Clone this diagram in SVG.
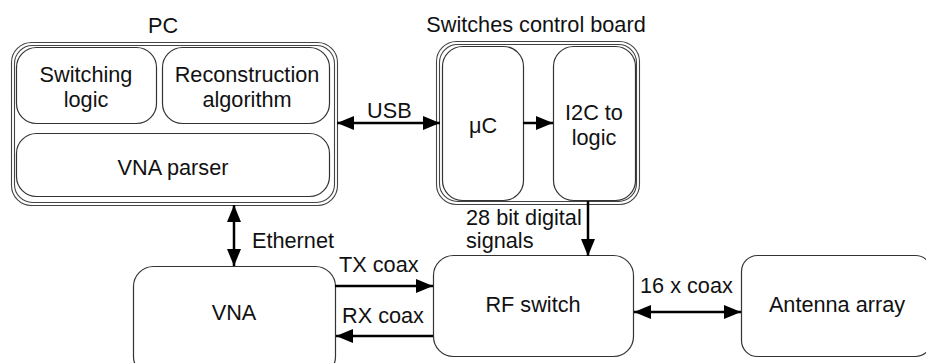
<svg xmlns="http://www.w3.org/2000/svg" width="926" height="363" viewBox="0 0 926 363">
<style>
.box{fill:#fff;stroke:#333;stroke-width:1.2}
.outer{fill:none;stroke:#444;stroke-width:1.1}
text{font-family:"Liberation Sans",Arial,sans-serif;font-size:21.7px;fill:#111}
.c{text-anchor:middle}
.ln{stroke:#000;stroke-width:2.5;fill:none}
</style>
<defs>
<marker id="ah" viewBox="0 0 17 14" refX="17" refY="7" markerWidth="17" markerHeight="14" markerUnits="userSpaceOnUse" orient="auto-start-reverse">
<path d="M0,0 L17,7 L0,14 Z" fill="#000"/>
</marker>
</defs>
<g id="pc">
<rect class="outer" x="11.5" y="42.5" width="326" height="163" rx="20"/>
<rect class="outer" x="14.5" y="45.5" width="320" height="157" rx="18"/>
<text class="c" x="163" y="33">PC</text>
</g>
<g id="switching-logic">
<rect class="box" x="16.5" y="47.5" width="140" height="76" rx="20"/>
<text class="c" x="86" y="82">Switching</text>
<text class="c" x="86" y="107">logic</text>
</g>
<g id="reconstruction">
<rect class="box" x="162.5" y="47.5" width="167" height="76" rx="20"/>
<text class="c" x="247" y="82">Reconstruction</text>
<text class="c" x="247" y="107">algorithm</text>
</g>
<g id="vna-parser">
<rect class="box" x="16.5" y="133.5" width="313" height="63" rx="20"/>
<text class="c" x="173" y="175">VNA parser</text>
</g>
<g id="control-board">
<rect class="outer" x="436.5" y="41.5" width="203" height="163" rx="20"/>
<rect class="outer" x="439.5" y="44.5" width="197" height="157" rx="18"/>
<text class="c" x="536" y="32">Switches control board</text>
</g>
<g id="uc">
<rect class="box" x="442.5" y="46.5" width="81" height="154" rx="20"/>
<text class="c" x="483" y="133">μC</text>
</g>
<g id="i2c">
<rect class="box" x="553.5" y="46.5" width="82" height="154" rx="20"/>
<text class="c" x="594" y="120">I2C to</text>
<text class="c" x="594" y="145">logic</text>
</g>
<g id="vna">
<rect class="box" x="133.5" y="266.5" width="202" height="110" rx="20"/>
<text class="c" x="234" y="320">VNA</text>
</g>
<g id="rf-switch">
<rect class="box" x="433.5" y="255.5" width="200" height="101" rx="20"/>
<text class="c" x="533" y="312">RF switch</text>
</g>
<g id="antenna-array">
<rect class="box" x="741.5" y="255.5" width="190" height="101" rx="16"/>
<text class="c" x="837" y="312">Antenna array</text>
</g>
<g id="connectors">
<line class="ln" x1="337" y1="123" x2="440" y2="123" marker-start="url(#ah)" marker-end="url(#ah)"/>
<line class="ln" x1="523" y1="123" x2="553" y2="123" marker-end="url(#ah)"/>
<line class="ln" x1="234" y1="205" x2="234" y2="266" marker-start="url(#ah)" marker-end="url(#ah)"/>
<line class="ln" x1="335" y1="286" x2="433" y2="286" marker-end="url(#ah)"/>
<line class="ln" x1="433" y1="336" x2="336" y2="336" marker-end="url(#ah)"/>
<line class="ln" x1="588" y1="201" x2="588" y2="256" marker-end="url(#ah)"/>
<line class="ln" x1="634" y1="312" x2="741" y2="312" marker-start="url(#ah)" marker-end="url(#ah)"/>
<text x="367" y="118">USB</text>
<text x="252" y="248">Ethernet</text>
<text x="339" y="272">TX coax</text>
<text x="342" y="323">RX coax</text>
<text x="466" y="225">28 bit digital</text>
<text x="466" y="248">signals</text>
<text x="640" y="293">16 x coax</text>
</g>
</svg>
